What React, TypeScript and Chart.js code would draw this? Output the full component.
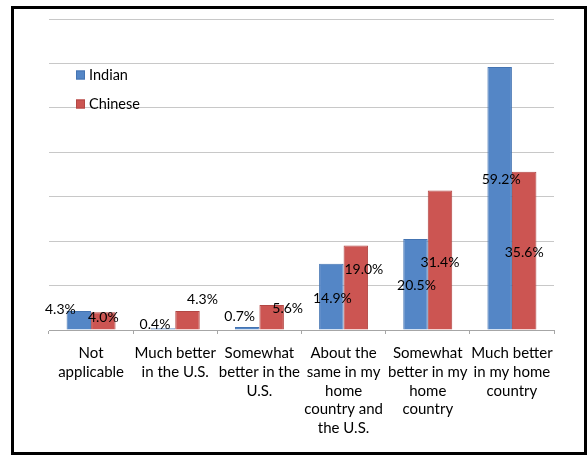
import React, { useEffect, useRef } from "react";
import { Chart, registerables } from "chart.js";

Chart.register(...registerables);

const categories: string[][] = [
  ["Not", "applicable"],
  ["Much better", "in the U.S."],
  ["Somewhat", "better in the", "U.S."],
  ["About the", "same in my", "home", "country and", "the U.S."],
  ["Somewhat", "better in my", "home", "country"],
  ["Much better", "in my home", "country"],
];
const indianValues = [4.3, 0.4, 0.7, 14.9, 20.5, 59.2];
const chineseValues = [4.0, 4.3, 5.6, 19.0, 31.4, 35.6];
const seriesNames = ["Indian", "Chinese"];
const yMax = 70;
const yStep = 10;

const COLORS = ["#5486C6", "#CC5552"];
const BORDERS = ["#4474B2", "#B24744"];
const FONT = "Lato, 'Noto Sans', sans-serif";

// Label placement (offset from bar centre), mimicking the manually moved Excel labels
const labelOffsets: number[][][] = [
  [[-18.5, -11], [-8, -4], [-7.5, -11.5], [1, 1.5], [1, 1.5], [1.5, -18.5]],
  [[0, -3], [15, -21], [16, -9], [8, -18.5], [0, 2], [0, 2]],
];

const labelPlugin = {
  id: "valueLabels",
  afterDatasetsDraw(chart: any) {
    const ctx = chart.ctx;
    ctx.save();
    ctx.font = `14px ${FONT}`;
    ctx.fillStyle = "#000";
    ctx.textAlign = "center";
    ctx.textBaseline = "middle";
    chart.data.datasets.forEach((ds: any, i: number) => {
      const meta = chart.getDatasetMeta(i);
      meta.data.forEach((bar: any, j: number) => {
        const p = bar.getProps(["x", "y", "base"], true);
        const mid = (p.y + p.base) / 2;
        const [dx, dy] = labelOffsets[i][j];
        ctx.fillText(ds.data[j].toFixed(1) + "%", p.x + dx, mid + dy);
      });
    });
    ctx.restore();
  },
};

const legendPlugin = {
  id: "innerLegend",
  afterDraw(chart: any) {
    const ctx = chart.ctx;
    const area = chart.chartArea;
    ctx.save();
    ctx.font = `14.5px ${FONT}`;
    ctx.textBaseline = "middle";
    ctx.textAlign = "left";
    chart.data.datasets.forEach((ds: any, i: number) => {
      const cy = area.top + 56 + i * 29;
      const bx = area.left + 27;
      ctx.fillStyle = COLORS[i];
      ctx.fillRect(bx, cy - 4.5, 9, 9);
      ctx.strokeStyle = BORDERS[i];
      ctx.lineWidth = 1;
      ctx.strokeRect(bx + 0.5, cy - 4.5 + 0.5, 8, 8);
      ctx.fillStyle = "#000";
      ctx.fillText(ds.label, bx + 13, cy);
    });
    ctx.restore();
  },
};

export default function App() {
  const ref = useRef<HTMLCanvasElement | null>(null);

  useEffect(() => {
    if (!ref.current) return;
    const chart = new Chart(ref.current, {
      type: "bar",
      data: {
        labels: categories,
        datasets: [
          {
            label: seriesNames[0],
            data: indianValues,
            backgroundColor: COLORS[0],
            borderColor: BORDERS[0],
            borderWidth: 1,
            categoryPercentage: 0.582,
            barPercentage: 1,
          },
          {
            label: seriesNames[1],
            data: chineseValues,
            backgroundColor: COLORS[1],
            borderColor: BORDERS[1],
            borderWidth: 1,
            categoryPercentage: 0.582,
            barPercentage: 1,
          },
        ],
      },
      options: {
        responsive: false,
        animation: false,
        layout: { padding: { left: 0, right: 30, top: 10, bottom: 0 } },
        plugins: {
          legend: { display: false },
          tooltip: { enabled: false },
        },
        scales: {
          x: {
            grid: {
              display: true,
              drawOnChartArea: false,
              drawTicks: true,
              tickLength: 4,
              color: "#a6a6a6",
              offset: true,
            },
            border: { display: true, color: "#a6a6a6" },
            ticks: {
              color: "#000",
              font: { family: FONT, size: 15, lineHeight: 1.25 },
              padding: 10,
              maxRotation: 0,
              minRotation: 0,
              autoSkip: false,
            },
            afterFit(scale: any) {
              scale.height = 122;
            },
          },
          y: {
            min: 0,
            max: yMax,
            ticks: { display: false, stepSize: yStep },
            grid: { color: "#c8c8c8", drawTicks: false, lineWidth: 1 },
            border: { display: false },
            afterFit(scale: any) {
              scale.width = 35;
            },
          },
        },
      },
      plugins: [labelPlugin, legendPlugin],
    });
    return () => chart.destroy();
  }, []);

  return (
    <div
      style={{
        position: "absolute",
        left: 11,
        top: 6,
        width: 576,
        height: 449,
        boxSizing: "border-box",
        border: "3px solid #000",
        background: "#fff",
      }}
    >
      <canvas ref={ref} width={570} height={443} style={{ display: "block" }} />
    </div>
  );
}
